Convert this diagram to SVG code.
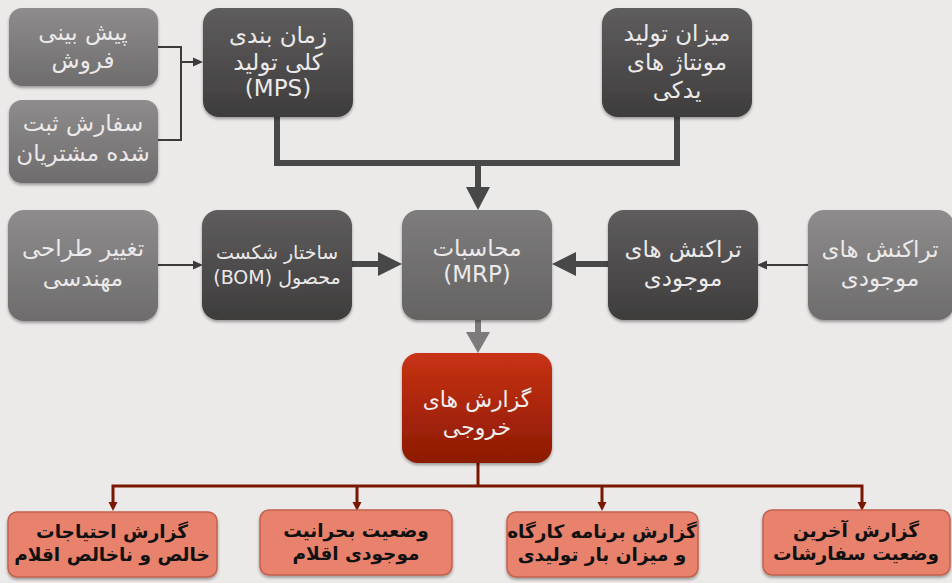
<svg xmlns="http://www.w3.org/2000/svg" width="952" height="583" viewBox="0 0 952 583">
<defs>
<linearGradient id="gLight" x1="0" y1="0" x2="0" y2="1"><stop offset="0" stop-color="#8e8c8c"/><stop offset="1" stop-color="#6e6c6c"/></linearGradient>
<linearGradient id="gDark" x1="0" y1="0" x2="0" y2="1"><stop offset="0" stop-color="#5f5d5d"/><stop offset="1" stop-color="#3e3c3c"/></linearGradient>
<linearGradient id="gMid" x1="0" y1="0" x2="0" y2="1"><stop offset="0" stop-color="#7e7c7c"/><stop offset="1" stop-color="#656363"/></linearGradient>
<linearGradient id="gRed" x1="0" y1="0" x2="0" y2="1"><stop offset="0" stop-color="#c83214"/><stop offset="1" stop-color="#8c1a02"/></linearGradient>
<filter id="sh" x="-10%" y="-10%" width="120%" height="130%"><feDropShadow dx="0" dy="2" stdDeviation="1.5" flood-color="#000" flood-opacity="0.35"/></filter>
</defs>
<style>
.t{font-family:"DejaVu Sans","Noto Sans",sans-serif;text-anchor:middle;dominant-baseline:central}
.w{fill:#ebe9e9;font-size:23px}
.wr{fill:#f0eeee;font-size:22px}
.ws{fill:#ebe9e9;font-size:19px}
.b{fill:#111;font-size:18.5px;font-weight:bold}
.r{direction:rtl;unicode-bidi:embed}
.thin{stroke:#3c3c3c;stroke-width:2;fill:none}
.thick{stroke:#484848;stroke-width:6;fill:none}
.red{stroke:#7a1703;stroke-width:3;fill:none}
.sal{fill:#e8826c;stroke:#c1614e;stroke-width:1.5}
</style>
<rect width="952" height="583" fill="#ece9e9"/>
<g id="connectors">
<polyline class="thin" points="158,47 181,47 181,140 158,140"/>
<line class="thin" x1="181" y1="62" x2="194" y2="62"/>
<polygon points="203,62 193,57.5 193,66.5" fill="#3c3c3c"/>
<polyline class="thick" points="277,117 277,163 677,163 677,117"/>
<line class="thick" x1="478" y1="163" x2="478" y2="188"/>
<polygon points="478,210 466,187 490,187" fill="#484848"/>
<line class="thin" x1="158" y1="265" x2="194" y2="265"/>
<polygon points="203,265 193,260.5 193,269.5" fill="#3c3c3c"/>
<line class="thick" x1="352" y1="264" x2="380" y2="264"/>
<polygon points="402,264 378,252 378,276" fill="#484848"/>
<line class="thick" x1="608" y1="264" x2="574" y2="264"/>
<polygon points="552,264 576,252 576,276" fill="#484848"/>
<line class="thin" x1="808" y1="265" x2="766" y2="265"/>
<polygon points="757,265 767,260.5 767,269.5" fill="#3c3c3c"/>
<line x1="478" y1="320" x2="478" y2="334" stroke="#7c7a7a" stroke-width="6"/>
<polygon points="478,353 466,332 490,332" fill="#7c7a7a"/>
<line class="red" x1="478" y1="463" x2="478" y2="486"/>
<polyline class="red" points="113,503 113,486 862,486 862,503"/>
<line class="red" x1="357" y1="486" x2="357" y2="503"/>
<line class="red" x1="602" y1="486" x2="602" y2="503"/>
<polygon points="113,511 108.5,502 117.5,502" fill="#7a1703"/>
<polygon points="357,511 352.5,502 361.5,502" fill="#7a1703"/>
<polygon points="602,511 597.5,502 606.5,502" fill="#7a1703"/>
<polygon points="862,511 857.5,502 866.5,502" fill="#7a1703"/>
</g>
<g id="n-forecast">
<rect x="9" y="8" width="149" height="78" rx="13" fill="url(#gLight)" filter="url(#sh)"/>
<text class="t w r" x="83" y="32">پیش بینی</text>
<text class="t w r" x="83" y="60">فروش</text>
</g>
<g id="n-orders">
<rect x="9" y="100" width="149" height="83" rx="13" fill="url(#gLight)" filter="url(#sh)"/>
<text class="t w r" x="83" y="123">سفارش ثبت</text>
<text class="t w r" x="83" y="153">شده مشتریان</text>
</g>
<g id="n-mps">
<rect x="203" y="8" width="150" height="109" rx="16" fill="url(#gDark)" filter="url(#sh)"/>
<text class="t w r" x="278" y="35">زمان بندی</text>
<text class="t w r" x="278" y="62">کلی تولید</text>
<text class="t w" x="278" y="88">(MPS)</text>
</g>
<g id="n-assembly">
<rect x="602" y="8" width="150" height="109" rx="16" fill="url(#gDark)" filter="url(#sh)"/>
<text class="t w r" x="677" y="33">میزان تولید</text>
<text class="t w r" x="677" y="62">مونتاژ های</text>
<text class="t w r" x="677" y="90">یدکی</text>
</g>
<g id="n-engineering">
<rect x="8" y="210" width="150" height="111" rx="16" fill="url(#gLight)" filter="url(#sh)"/>
<text class="t w r" x="83" y="248">تغییر طراحی</text>
<text class="t w r" x="83" y="278">مهندسی</text>
</g>
<g id="n-bom">
<rect x="202" y="210" width="150" height="110" rx="16" fill="url(#gDark)" filter="url(#sh)"/>
<text class="t ws r" x="277" y="252">ساختار شکست</text>
<text class="t ws r" x="277" y="277">محصول (BOM)</text>
</g>
<g id="n-mrp">
<rect x="402" y="210" width="150" height="110" rx="16" fill="url(#gMid)" filter="url(#sh)"/>
<text class="t w r" x="477" y="248">محاسبات</text>
<text class="t w" x="477" y="274">(MRP)</text>
</g>
<g id="n-inv-dark">
<rect x="608" y="210" width="150" height="110" rx="16" fill="url(#gDark)" filter="url(#sh)"/>
<text class="t w r" x="683" y="249">تراکنش های</text>
<text class="t w r" x="683" y="278">موجودی</text>
</g>
<g id="n-inv-light">
<rect x="808" y="210" width="146" height="110" rx="16" fill="url(#gLight)" filter="url(#sh)"/>
<text class="t w r" x="880" y="249">تراکنش های</text>
<text class="t w r" x="880" y="278">موجودی</text>
</g>
<g id="n-output">
<rect x="402" y="353" width="150" height="110" rx="16" fill="url(#gRed)" filter="url(#sh)"/>
<text class="t wr r" x="477" y="399">گزارش های</text>
<text class="t wr r" x="477" y="427">خروجی</text>
</g>
<g id="n-net">
<rect class="sal" x="8" y="512" width="209" height="65" rx="9" filter="url(#sh)"/>
<text class="t b r" x="112" y="531">گزارش احتیاجات</text>
<text class="t b r" x="112" y="554">خالص و ناخالص اقلام</text>
</g>
<g id="n-critical">
<rect class="sal" x="260" y="510" width="192" height="65" rx="9" filter="url(#sh)"/>
<text class="t b r" x="356" y="530">وضعیت بحرانیت</text>
<text class="t b r" x="356" y="553">موجودی اقلام</text>
</g>
<g id="n-workshop">
<rect class="sal" x="507" y="512" width="191" height="65" rx="9" filter="url(#sh)"/>
<text class="t b r" x="602" y="531">گزارش برنامه کارگاه</text>
<text class="t b r" x="602" y="554">و میزان بار تولیدی</text>
</g>
<g id="n-orders-status">
<rect class="sal" x="763" y="510" width="187" height="65" rx="9" filter="url(#sh)"/>
<text class="t b r" x="856" y="530">گزارش آخرین</text>
<text class="t b r" x="856" y="553">وضعیت سفارشات</text>
</g>
</svg>
